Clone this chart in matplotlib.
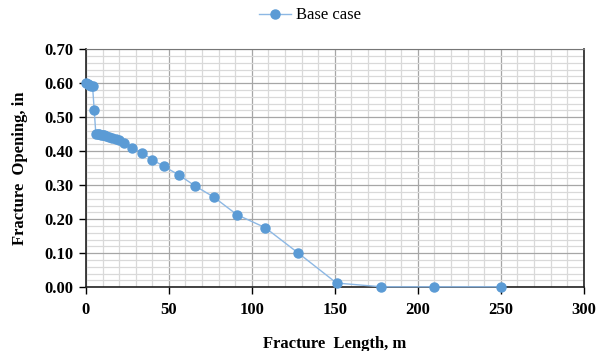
import matplotlib.pyplot as plt
from matplotlib.ticker import MultipleLocator, FormatStrFormatter

plt.rcParams['font.family'] = ['Liberation Serif', 'DejaVu Serif']

# fracture length (m) and opening (in)
length = [0, 1, 2, 3, 4, 5, 6, 7, 8, 9, 10, 11, 12, 14, 16, 18, 20, 23,
          28, 34, 40, 47, 56, 66, 77, 91, 108, 128, 151, 178, 210, 250]
opening = [0.600, 0.597, 0.595, 0.593, 0.592, 0.52, 0.450, 0.450, 0.449, 0.448,
           0.447, 0.446, 0.445, 0.442, 0.439, 0.436, 0.432, 0.424,
           0.410, 0.395, 0.375, 0.355, 0.330, 0.297, 0.265, 0.213, 0.175,
           0.100, 0.012, 0.001, 0.001, 0.001]

fig = plt.figure(figsize=(6.05, 3.51), dpi=100)
ax = fig.add_axes([0.142, 0.182, 0.823, 0.678])

ax.plot(length, opening, color='#8DB8E4', lw=1.0, marker='o', ms=6.5,
        mfc='#5B9BD5', mec='#5B9BD5', label='Base case', zorder=3, clip_on=False)

ax.set_xlim(0, 300)
ax.set_ylim(0, 0.70)
ax.xaxis.set_major_locator(MultipleLocator(50))
ax.xaxis.set_minor_locator(MultipleLocator(10))
ax.yaxis.set_major_locator(MultipleLocator(0.1))
ax.yaxis.set_minor_locator(MultipleLocator(0.02))
ax.yaxis.set_major_formatter(FormatStrFormatter('%.2f'))

ax.grid(which='major', color='#A6A6A6', lw=0.9)
ax.grid(which='minor', color='#D9D9D9', lw=0.9)
ax.set_axisbelow(True)

for s in ['left', 'bottom', 'right']:
    ax.spines[s].set_color('#222222')
    ax.spines[s].set_linewidth(1.2)
ax.spines['top'].set_color('#777777')

ax.tick_params(which='major', direction='out', length=5, width=1, labelsize=12, pad=4)
ax.tick_params(which='minor', length=0)
ax.tick_params(axis='x', pad=6)
for lab in ax.get_xticklabels() + ax.get_yticklabels():
    lab.set_fontweight('bold')

ax.set_xlabel('Fracture  Length, m', fontsize=12, fontweight='bold', labelpad=13)
ax.set_ylabel('Fracture  Opening, in', fontsize=12, fontweight='bold', labelpad=12)

ax.legend(loc='lower center', bbox_to_anchor=(0.45, 1.08), frameon=False,
          fontsize=12, handlelength=1.9, handletextpad=0.3, borderaxespad=0)

fig.savefig('out.png', dpi=100)
